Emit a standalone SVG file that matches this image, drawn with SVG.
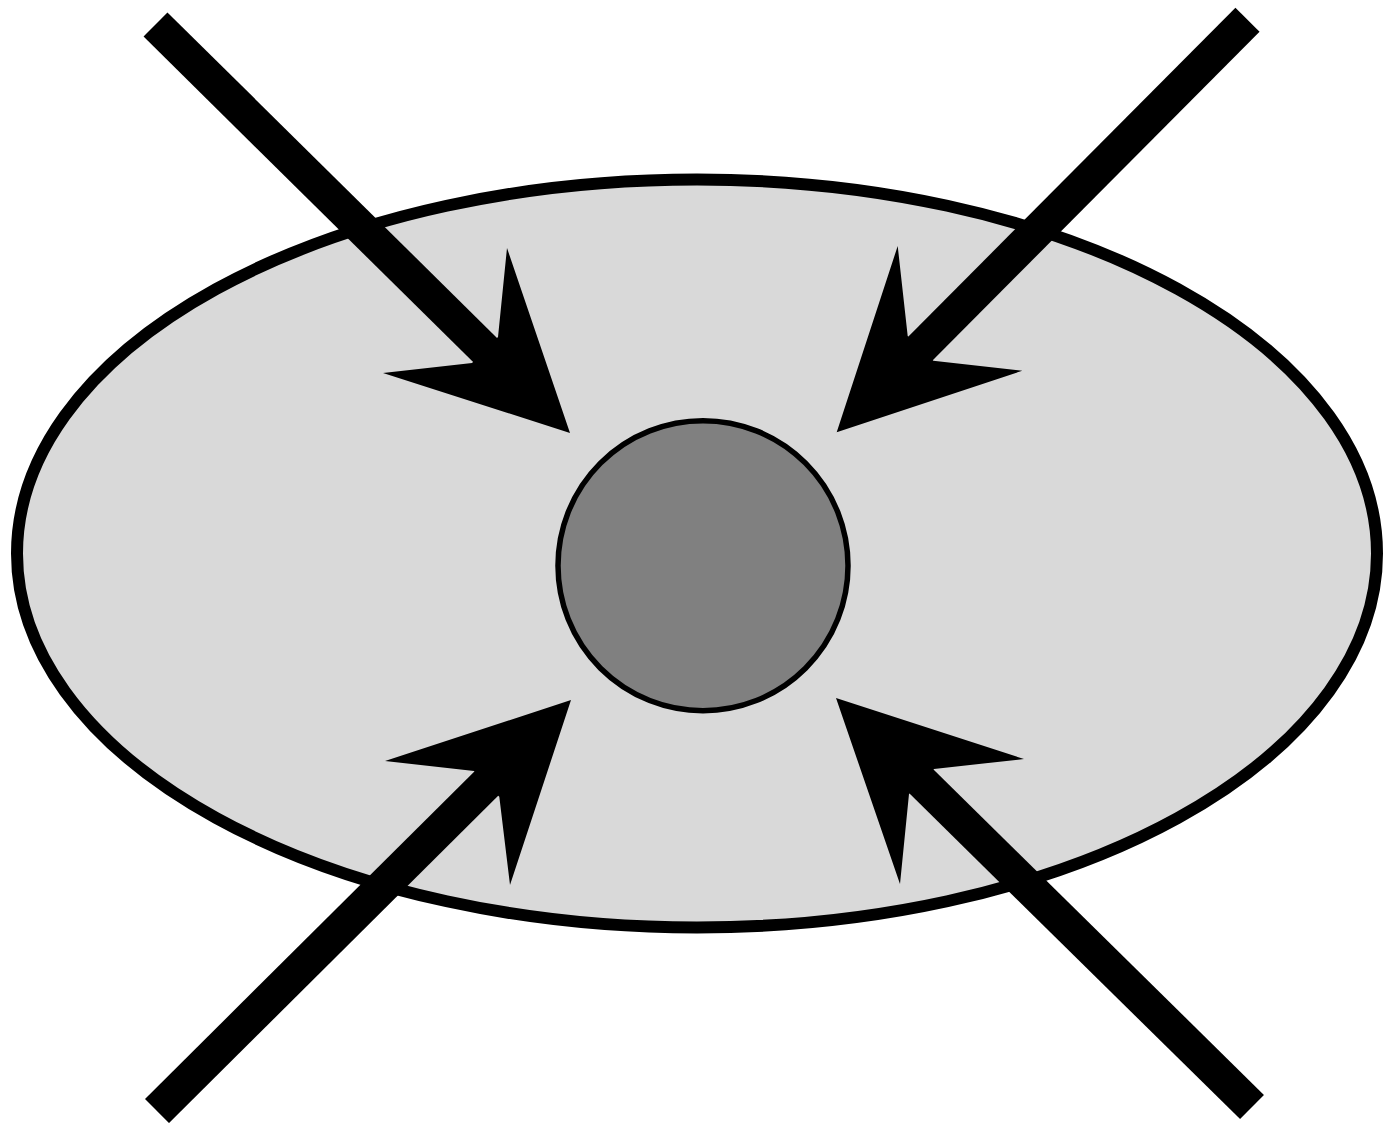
<svg xmlns="http://www.w3.org/2000/svg" width="1383" height="1123" viewBox="0 0 1383 1123">
  <style>
    .shaft { stroke: #000; stroke-width: 34; stroke-linecap: butt; fill: none; }
    .head { fill: #000; stroke: none; }
  </style>
  <rect x="0" y="0" width="1383" height="1123" fill="#ffffff"/>
  <g id="outer-ellipse">
    <ellipse cx="697" cy="553.5" rx="680" ry="374" fill="#d9d9d9" stroke="#000" stroke-width="12"/>
  </g>
  <g id="center-circle">
    <circle cx="703" cy="565.7" r="145" fill="#808080" stroke="#000" stroke-width="5.5"/>
  </g>
  <g id="connectors">
    <line class="shaft" x1="155.5" y1="24.5" x2="495.7" y2="360.5"/>
    <polygon class="head" points="570,433 507,248 498,337 472,363 383,373"/>
    <line class="shaft" x1="1247.5" y1="19.8" x2="910" y2="359"/>
    <polygon class="head" points="836.7,432.3 897.7,246 907.7,336 933.3,360.7 1022.3,370.7"/>
    <line class="shaft" x1="157" y1="1111" x2="497" y2="773"/>
    <polygon class="head" points="571,700 385,761 474,771 499.3,796.7 510,885"/>
    <line class="shaft" x1="1252" y1="1107" x2="910.8" y2="771"/>
    <polygon class="head" points="836,698 1024,759 934,769 909,794 900,884"/>
  </g>
</svg>
